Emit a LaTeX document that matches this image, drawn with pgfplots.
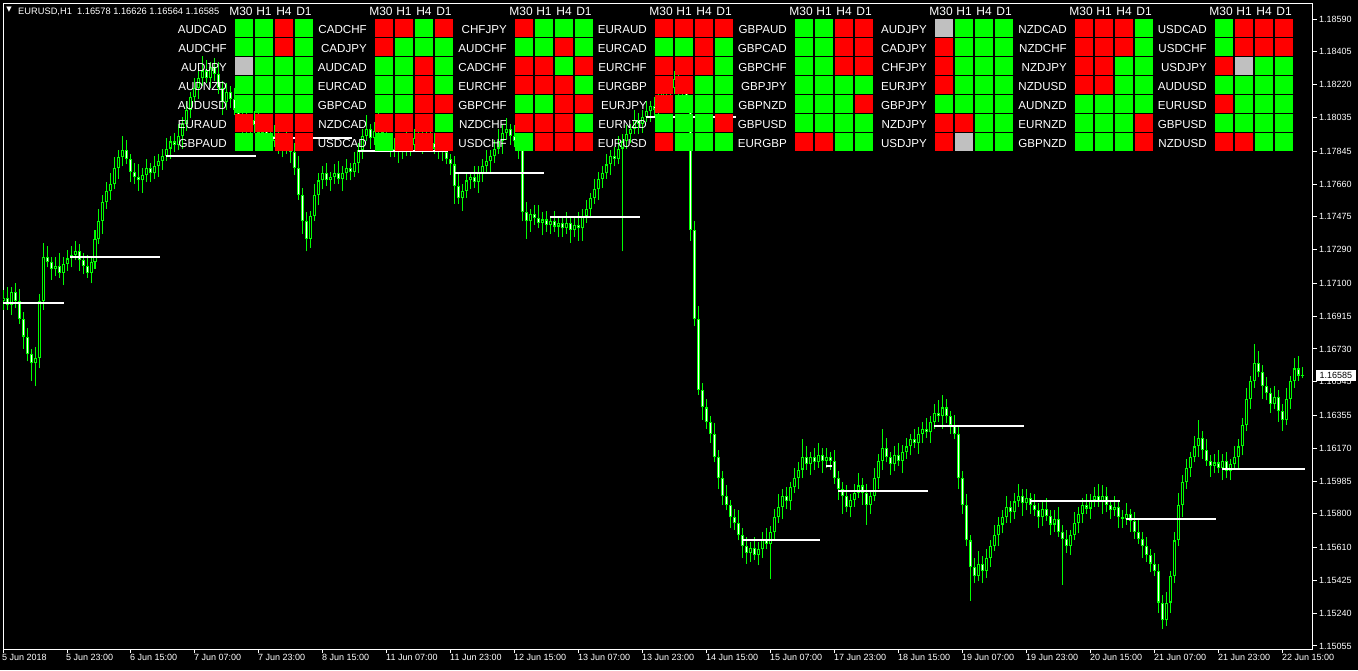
\documentclass[border=0pt]{standalone}
\usepackage{fontspec}
\setmainfont{Liberation Sans}
\newfontfamily\symfont{DejaVu Sans}
\usepackage{pgfplots}
\usepackage{pgfplotstable}
\pgfplotsset{compat=1.18}
\definecolor{mtgreen}{RGB}{0,255,0}
\definecolor{mtred}{RGB}{255,0,0}
\definecolor{mtgray}{RGB}{192,192,192}

% hourly EURUSD bars: index open high low close
\pgfplotstableread{
i o h l c
0 1.1700 1.1706 1.1695 1.1702
1 1.1702 1.1708 1.1695 1.1698
2 1.1698 1.1708 1.1692 1.1705
3 1.1705 1.1710 1.1696 1.1700
4 1.1700 1.1707 1.1687 1.1690
5 1.1690 1.1694 1.1673 1.1680
6 1.1680 1.1685 1.1666 1.1670
7 1.1670 1.1673 1.1655 1.1665
8 1.1665 1.1674 1.1652 1.1668
9 1.1668 1.1704 1.1662 1.1700
10 1.1700 1.1733 1.1695 1.1725
11 1.1725 1.1731 1.1719 1.1722
12 1.1722 1.1725 1.1712 1.1718
13 1.1718 1.1725 1.1714 1.1720
14 1.1720 1.1727 1.1713 1.1716
15 1.1716 1.1725 1.1709 1.1721
16 1.1721 1.1729 1.1717 1.1724
17 1.1724 1.1731 1.1719 1.1726
18 1.1726 1.1734 1.1723 1.1728
19 1.1728 1.1732 1.1717 1.1723
20 1.1723 1.1727 1.1715 1.1720
21 1.1720 1.1726 1.1713 1.1716
22 1.1716 1.1725 1.1710 1.1722
23 1.1722 1.1740 1.1718 1.1735
24 1.1735 1.1752 1.1732 1.1745
25 1.1745 1.1760 1.1738 1.1756
26 1.1756 1.1767 1.1752 1.1762
27 1.1762 1.1772 1.1757 1.1766
28 1.1766 1.1781 1.1763 1.1775
29 1.1775 1.1785 1.1769 1.1781
30 1.1781 1.1793 1.1776 1.1785
31 1.1785 1.1791 1.1777 1.1780
32 1.1780 1.1783 1.1767 1.1773
33 1.1773 1.1778 1.1766 1.1770
34 1.1770 1.1777 1.1762 1.1768
35 1.1768 1.1775 1.1761 1.1771
36 1.1771 1.1780 1.1767 1.1775
37 1.1775 1.1778 1.1767 1.1772
38 1.1772 1.1782 1.1769 1.1776
39 1.1776 1.1783 1.1770 1.1779
40 1.1779 1.1786 1.1774 1.1782
41 1.1782 1.1792 1.1779 1.1786
42 1.1786 1.1793 1.1780 1.1790
43 1.1790 1.1795 1.1784 1.1788
44 1.1788 1.1800 1.1785 1.1793
45 1.1793 1.1804 1.1786 1.1800
46 1.1800 1.1813 1.1796 1.1808
47 1.1808 1.1818 1.1803 1.1815
48 1.1815 1.1826 1.1812 1.1820
49 1.1820 1.1830 1.1814 1.1826
50 1.1826 1.1838 1.1821 1.1830
51 1.1830 1.1836 1.1823 1.1826
52 1.1826 1.1835 1.1820 1.1832
53 1.1832 1.1837 1.1824 1.1828
54 1.1828 1.1835 1.1817 1.1820
55 1.1820 1.1824 1.1805 1.1812
56 1.1812 1.1823 1.1808 1.1818
57 1.1818 1.1821 1.1809 1.1814
58 1.1814 1.1820 1.1805 1.1808
59 1.1808 1.1812 1.1798 1.1804
60 1.1804 1.1808 1.1795 1.1800
61 1.1800 1.1806 1.1794 1.1797
62 1.1797 1.1805 1.1791 1.1802
63 1.1802 1.1807 1.1795 1.1799
64 1.1799 1.1806 1.1792 1.1795
65 1.1795 1.1802 1.1788 1.1798
66 1.1798 1.1803 1.1790 1.1794
67 1.1794 1.1797 1.1785 1.1790
68 1.1790 1.1799 1.1787 1.1793
69 1.1793 1.1797 1.1783 1.1789
70 1.1789 1.1793 1.1781 1.1786
71 1.1786 1.1796 1.1783 1.1790
72 1.1790 1.1793 1.1778 1.1784
73 1.1784 1.1789 1.1771 1.1775
74 1.1775 1.1782 1.1757 1.1760
75 1.1760 1.1764 1.1738 1.1745
76 1.1745 1.1750 1.1728 1.1735
77 1.1735 1.1751 1.1730 1.1748
78 1.1748 1.1766 1.1745 1.1760
79 1.1760 1.1772 1.1754 1.1768
80 1.1768 1.1776 1.1763 1.1772
81 1.1772 1.1778 1.1765 1.1768
82 1.1768 1.1773 1.1762 1.1770
83 1.1770 1.1777 1.1766 1.1772
84 1.1772 1.1779 1.1766 1.1769
85 1.1769 1.1776 1.1762 1.1772
86 1.1772 1.1780 1.1768 1.1775
87 1.1775 1.1778 1.1768 1.1773
88 1.1773 1.1784 1.1770 1.1778
89 1.1778 1.1789 1.1772 1.1785
90 1.1785 1.1797 1.1780 1.1793
91 1.1793 1.1805 1.1790 1.1797
92 1.1797 1.1800 1.1786 1.1792
93 1.1792 1.1801 1.1788 1.1796
94 1.1796 1.1807 1.1793 1.1800
95 1.1800 1.1804 1.1788 1.1795
96 1.1795 1.1800 1.1786 1.1790
97 1.1790 1.1793 1.1781 1.1786
98 1.1786 1.1792 1.1781 1.1784
99 1.1784 1.1792 1.1778 1.1788
100 1.1788 1.1792 1.1780 1.1785
101 1.1785 1.1796 1.1782 1.1790
102 1.1790 1.1793 1.1782 1.1788
103 1.1788 1.1797 1.1784 1.1792
104 1.1792 1.1802 1.1789 1.1795
105 1.1795 1.1799 1.1783 1.1790
106 1.1790 1.1798 1.1786 1.1793
107 1.1793 1.1796 1.1784 1.1789
108 1.1789 1.1795 1.1783 1.1786
109 1.1786 1.1792 1.1780 1.1788
110 1.1788 1.1792 1.1779 1.1784
111 1.1784 1.1790 1.1777 1.1780
112 1.1780 1.1783 1.1771 1.1777
113 1.1777 1.1782 1.1755 1.1765
114 1.1765 1.1772 1.1755 1.1758
115 1.1758 1.1766 1.1751 1.1762
116 1.1762 1.1773 1.1758 1.1768
117 1.1768 1.1773 1.1763 1.1770
118 1.1770 1.1776 1.1764 1.1767
119 1.1767 1.1776 1.1761 1.1772
120 1.1772 1.1780 1.1767 1.1776
121 1.1776 1.1785 1.1773 1.1779
122 1.1779 1.1785 1.1773 1.1782
123 1.1782 1.1791 1.1778 1.1786
124 1.1786 1.1797 1.1783 1.1790
125 1.1790 1.1799 1.1783 1.1795
126 1.1795 1.1803 1.1791 1.1797
127 1.1797 1.1800 1.1788 1.1793
128 1.1793 1.1799 1.1787 1.1790
129 1.1790 1.1794 1.1780 1.1786
130 1.1786 1.1790 1.1745 1.1750
131 1.1750 1.1756 1.1735 1.1745
132 1.1745 1.1752 1.1739 1.1749
133 1.1749 1.1754 1.1743 1.1747
134 1.1747 1.1754 1.1741 1.1744
135 1.1744 1.1750 1.1737 1.1746
136 1.1746 1.1751 1.1739 1.1743
137 1.1743 1.1748 1.1738 1.1745
138 1.1745 1.1751 1.1739 1.1742
139 1.1742 1.1748 1.1736 1.1744
140 1.1744 1.1748 1.1736 1.1741
141 1.1741 1.1750 1.1738 1.1744
142 1.1744 1.1747 1.1733 1.1740
143 1.1740 1.1748 1.1736 1.1743
144 1.1743 1.1750 1.1734 1.1741
145 1.1741 1.1752 1.1734 1.1748
146 1.1748 1.1757 1.1744 1.1752
147 1.1752 1.1761 1.1747 1.1758
148 1.1758 1.1769 1.1755 1.1763
149 1.1763 1.1773 1.1757 1.1769
150 1.1769 1.1776 1.1764 1.1772
151 1.1772 1.1783 1.1769 1.1777
152 1.1777 1.1785 1.1771 1.1782
153 1.1782 1.1787 1.1776 1.1780
154 1.1780 1.1793 1.1777 1.1786
155 1.1786 1.1794 1.1728 1.1790
156 1.1790 1.1799 1.1786 1.1794
157 1.1794 1.1800 1.1789 1.1797
158 1.1797 1.1808 1.1794 1.1802
159 1.1802 1.1806 1.1794 1.1800
160 1.1800 1.1808 1.1795 1.1804
161 1.1804 1.1813 1.1801 1.1807
162 1.1807 1.1813 1.1801 1.1810
163 1.1810 1.1815 1.1804 1.1808
164 1.1808 1.1820 1.1805 1.1813
165 1.1813 1.1822 1.1806 1.1818
166 1.1818 1.1827 1.1814 1.1822
167 1.1822 1.1825 1.1815 1.1820
168 1.1820 1.1830 1.1817 1.1825
169 1.1825 1.1829 1.1816 1.1822
170 1.1822 1.1826 1.1813 1.1818
171 1.1818 1.1824 1.1809 1.1812
172 1.1812 1.1815 1.1734 1.1740
173 1.1740 1.1745 1.1686 1.1690
174 1.1690 1.1697 1.1647 1.1650
175 1.1650 1.1654 1.1633 1.1640
176 1.1640 1.1645 1.1628 1.1632
177 1.1632 1.1635 1.1620 1.1625
178 1.1625 1.1631 1.1609 1.1612
179 1.1612 1.1616 1.1594 1.1600
180 1.1600 1.1604 1.1585 1.1590
181 1.1590 1.1596 1.1582 1.1585
182 1.1585 1.1588 1.1572 1.1578
183 1.1578 1.1583 1.1571 1.1575
184 1.1575 1.1582 1.1565 1.1568
185 1.1568 1.1572 1.1555 1.1562
186 1.1562 1.1567 1.1552 1.1558
187 1.1558 1.1564 1.1553 1.1561
188 1.1561 1.1567 1.1554 1.1557
189 1.1557 1.1564 1.1551 1.1560
190 1.1560 1.1570 1.1555 1.1566
191 1.1566 1.1572 1.1560 1.1563
192 1.1563 1.1573 1.1543 1.1570
193 1.1570 1.1583 1.1566 1.1578
194 1.1578 1.1591 1.1575 1.1584
195 1.1584 1.1594 1.1577 1.1590
196 1.1590 1.1595 1.1583 1.1587
197 1.1587 1.1598 1.1582 1.1595
198 1.1595 1.1606 1.1592 1.1600
199 1.1600 1.1609 1.1594 1.1605
200 1.1605 1.1622 1.1600 1.1612
201 1.1612 1.1618 1.1605 1.1608
202 1.1608 1.1615 1.1602 1.1612
203 1.1612 1.1617 1.1605 1.1609
204 1.1609 1.1620 1.1606 1.1613
205 1.1613 1.1617 1.1603 1.1610
206 1.1610 1.1617 1.1606 1.1612
207 1.1612 1.1615 1.1605 1.1610
208 1.1610 1.1616 1.1597 1.1600
209 1.1600 1.1604 1.1588 1.1594
210 1.1594 1.1598 1.1580 1.1590
211 1.1590 1.1596 1.1581 1.1584
212 1.1584 1.1591 1.1578 1.1588
213 1.1588 1.1597 1.1584 1.1592
214 1.1592 1.1603 1.1589 1.1596
215 1.1596 1.1600 1.1585 1.1592
216 1.1592 1.1597 1.1574 1.1585
217 1.1585 1.1593 1.1580 1.1590
218 1.1590 1.1606 1.1587 1.1600
219 1.1600 1.1614 1.1594 1.1610
220 1.1610 1.1628 1.1605 1.1617
221 1.1617 1.1623 1.1609 1.1612
222 1.1612 1.1615 1.1602 1.1608
223 1.1608 1.1618 1.1604 1.1613
224 1.1613 1.1620 1.1607 1.1610
225 1.1610 1.1619 1.1603 1.1615
226 1.1615 1.1623 1.1611 1.1618
227 1.1618 1.1625 1.1613 1.1622
228 1.1622 1.1628 1.1617 1.1620
229 1.1620 1.1629 1.1614 1.1625
230 1.1625 1.1632 1.1620 1.1628
231 1.1628 1.1634 1.1623 1.1626
232 1.1626 1.1635 1.1620 1.1632
233 1.1632 1.1642 1.1628 1.1637
234 1.1637 1.1644 1.1632 1.1635
235 1.1635 1.1647 1.1628 1.1640
236 1.1640 1.1645 1.1631 1.1635
237 1.1635 1.1638 1.1625 1.1630
238 1.1630 1.1636 1.1622 1.1625
239 1.1625 1.1629 1.1594 1.1600
240 1.1600 1.1604 1.1580 1.1585
241 1.1585 1.1591 1.1562 1.1565
242 1.1565 1.1568 1.1531 1.1550
243 1.1550 1.1555 1.1541 1.1545
244 1.1545 1.1559 1.1542 1.1552
245 1.1552 1.1556 1.1541 1.1548
246 1.1548 1.1560 1.1544 1.1555
247 1.1555 1.1565 1.1550 1.1562
248 1.1562 1.1574 1.1559 1.1568
249 1.1568 1.1578 1.1562 1.1574
250 1.1574 1.1582 1.1569 1.1578
251 1.1578 1.1590 1.1575 1.1584
252 1.1584 1.1587 1.1575 1.1581
253 1.1581 1.1592 1.1577 1.1587
254 1.1587 1.1597 1.1584 1.1590
255 1.1590 1.1594 1.1579 1.1586
256 1.1586 1.1594 1.1582 1.1589
257 1.1589 1.1592 1.1580 1.1585
258 1.1585 1.1591 1.1579 1.1582
259 1.1582 1.1586 1.1572 1.1578
260 1.1578 1.1587 1.1573 1.1583
261 1.1583 1.1589 1.1576 1.1579
262 1.1579 1.1582 1.1568 1.1574
263 1.1574 1.1582 1.1570 1.1577
264 1.1577 1.1584 1.1567 1.1570
265 1.1570 1.1574 1.1540 1.1566
266 1.1566 1.1571 1.1558 1.1562
267 1.1562 1.1571 1.1557 1.1568
268 1.1568 1.1581 1.1565 1.1575
269 1.1575 1.1584 1.1569 1.1580
270 1.1580 1.1589 1.1575 1.1585
271 1.1585 1.1591 1.1580 1.1583
272 1.1583 1.1591 1.1577 1.1588
273 1.1588 1.1595 1.1584 1.1590
274 1.1590 1.1597 1.1584 1.1587
275 1.1587 1.1596 1.1580 1.1590
276 1.1590 1.1595 1.1581 1.1585
277 1.1585 1.1588 1.1577 1.1582
278 1.1582 1.1590 1.1579 1.1584
279 1.1584 1.1588 1.1572 1.1578
280 1.1578 1.1582 1.1572 1.1577
281 1.1577 1.1586 1.1574 1.1580
282 1.1580 1.1583 1.1570 1.1576
283 1.1576 1.1581 1.1566 1.1570
284 1.1570 1.1577 1.1563 1.1566
285 1.1566 1.1570 1.1555 1.1562
286 1.1562 1.1567 1.1553 1.1557
287 1.1557 1.1560 1.1547 1.1552
288 1.1552 1.1558 1.1545 1.1548
289 1.1548 1.1552 1.1524 1.1530
290 1.1530 1.1534 1.1515 1.1520
291 1.1520 1.1536 1.1517 1.1530
292 1.1530 1.1548 1.1524 1.1545
293 1.1545 1.1570 1.1541 1.1565
294 1.1565 1.1592 1.1562 1.1585
295 1.1585 1.1602 1.1578 1.1598
296 1.1598 1.1611 1.1594 1.1606
297 1.1606 1.1615 1.1601 1.1612
298 1.1612 1.1624 1.1609 1.1618
299 1.1618 1.1633 1.1612 1.1623
300 1.1623 1.1627 1.1611 1.1616
301 1.1616 1.1622 1.1607 1.1610
302 1.1610 1.1613 1.1601 1.1607
303 1.1607 1.1614 1.1603 1.1609
304 1.1609 1.1616 1.1603 1.1606
305 1.1606 1.1614 1.1599 1.1610
306 1.1610 1.1615 1.1600 1.1604
307 1.1604 1.1611 1.1599 1.1608
308 1.1608 1.1618 1.1605 1.1612
309 1.1612 1.1622 1.1606 1.1618
310 1.1618 1.1634 1.1613 1.1630
311 1.1630 1.1651 1.1627 1.1645
312 1.1645 1.1658 1.1639 1.1655
313 1.1655 1.1676 1.1651 1.1665
314 1.1665 1.1672 1.1657 1.1660
315 1.1660 1.1664 1.1645 1.1652
316 1.1652 1.1657 1.1644 1.1648
317 1.1648 1.1651 1.1637 1.1642
318 1.1642 1.1652 1.1639 1.1646
319 1.1646 1.1650 1.1632 1.1638
320 1.1638 1.1642 1.1627 1.1633
321 1.1633 1.1651 1.1630 1.1645
322 1.1645 1.1658 1.1639 1.1655
323 1.1655 1.1668 1.1651 1.1662
324 1.1662 1.1669 1.1655 1.1658
325 1.16578 1.16626 1.16564 1.16585
}\bars

% daily open levels: first bar, length in bars, price
\pgfplotstableread{
xs len p
-0.25 15.5 1.16989
16.75 22.5 1.17248
40.75 22.5 1.17818
64.75 22.5 1.17919
88.75 22.5 1.17846
112.75 22.5 1.17722
136.75 22.5 1.17474
160.75 22.5 1.18037
184.75 19.5 1.15653
205.75 1.5 1.16070
208.75 22.5 1.15929
232.75 22.5 1.16295
256.75 22.5 1.15872
280.75 22.5 1.15771
304.75 20.75 1.16053
}\opens

% dashboard: group column, row, pair, state for M30 H1 H4 D1 (g up, r down, s neutral)
\pgfplotstableread{
c r name m30 h1 h4 d1
0 0 AUDCAD g g r g
0 1 AUDCHF g g r g
0 2 AUDJPY s g g g
0 3 AUDNZD g g g g
0 4 AUDUSD g g g g
0 5 EURAUD r r r r
0 6 GBPAUD g g r r
1 0 CADCHF r r g r
1 1 CADJPY r g g g
1 2 AUDCAD g g r g
1 3 EURCAD g g r g
1 4 GBPCAD g g r r
1 5 NZDCAD r r r g
1 6 USDCAD g r r r
2 0 CHFJPY r g g g
2 1 AUDCHF g g r g
2 2 CADCHF r r g r
2 3 EURCHF r r r g
2 4 GBPCHF g g r r
2 5 NZDCHF r r r g
2 6 USDCHF g r r r
3 0 EURAUD r r r r
3 1 EURCAD g g r g
3 2 EURCHF r r r g
3 3 EURGBP r r g g
3 4 EURJPY r g g g
3 5 EURNZD g g g r
3 6 EURUSD r g g g
4 0 GBPAUD g g r r
4 1 GBPCAD g g r r
4 2 GBPCHF g g r r
4 3 GBPJPY g g g g
4 4 GBPNZD g g g r
4 5 GBPUSD g g g g
4 6 EURGBP r r g g
5 0 AUDJPY s g g g
5 1 CADJPY r g g g
5 2 CHFJPY r g g g
5 3 EURJPY r g g g
5 4 GBPJPY g g g g
5 5 NZDJPY r r g g
5 6 USDJPY r s g g
6 0 NZDCAD r r r g
6 1 NZDCHF r r r g
6 2 NZDJPY r r g g
6 3 NZDUSD r r g g
6 4 AUDNZD g g g g
6 5 EURNZD g g g r
6 6 GBPNZD g g g r
7 0 USDCAD g r r r
7 1 USDCHF g r r r
7 2 USDJPY r s g g
7 3 AUDUSD g g g g
7 4 EURUSD r g g g
7 5 GBPUSD g g g g
7 6 NZDUSD r r g g
}\dash

\pgfplotsset{
  sq/.style={scatter, only marks, mark size=8.5pt, point meta=explicit symbolic,
    scatter/classes={r={mark=square*, mtred}, g={mark=square*, mtgreen}, s={mark=square*, mtgray}}},
  seg/.style={mark=none, forget plot},
}
\tikzset{hdr/.style={text=white, inner sep=0pt, font=\fontsize{12}{13}\selectfont}}

\begin{document}
\begin{tikzpicture}
\fill[black] (-3pt,-21pt) rectangle (1355pt,649pt);

\begin{axis}[
  scale only axis, width=1310pt, height=645pt,
  xmin=0, xmax=327.5, ymin=1.15038, ymax=1.18675,
  axis line style={white, line width=1pt},
  tick align=outside, major tick length=4pt,
  tick style={white, line width=1pt},
  xtick pos=left, ytick pos=right, yticklabel pos=right,
  xtick={0,16,...,320},
  xticklabels={5 Jun 2018, 5 Jun 23:00, 6 Jun 15:00, 7 Jun 07:00, 7 Jun 23:00,
    8 Jun 15:00, 11 Jun 07:00, 11 Jun 23:00, 12 Jun 15:00, 13 Jun 07:00,
    13 Jun 23:00, 14 Jun 15:00, 15 Jun 07:00, 17 Jun 23:00, 18 Jun 15:00,
    19 Jun 07:00, 19 Jun 23:00, 20 Jun 15:00, 21 Jun 07:00, 21 Jun 23:00,
    22 Jun 15:00},
  ytick={1.15055,1.15240,1.15425,1.15610,1.15800,1.15985,1.16170,1.16355,1.16545,1.16730,
    1.16915,1.17100,1.17290,1.17475,1.17660,1.17845,1.18035,1.18220,1.18405,1.18590},
  yticklabels={1.15055,1.15240,1.15425,1.15610,1.15800,1.15985,1.16170,1.16355,1.16545,1.16730,
    1.16915,1.17100,1.17290,1.17475,1.17660,1.17845,1.18035,1.18220,1.18405,1.18590},
  scaled y ticks=false,
  every tick label/.append style={text=white, font=\fontsize{9}{10}\selectfont},
  xticklabel style={anchor=north west, inner sep=0pt, xshift=-1pt, yshift=-1pt},
  yticklabel style={anchor=west, inner sep=0pt, xshift=2pt},
]
% wicks: low to high
\addplot[seg, mtgreen, line width=1pt, quiver={u=0, v=\thisrow{h}-\thisrow{l}}]
  table[x=i, y=l] {\bars};
% bodies: green outline colour
\addplot[seg, mtgreen, line width=3pt, quiver={u=0, v=abs(\thisrow{c}-\thisrow{o})}]
  table[x=i, y expr={min(\thisrow{o},\thisrow{c})}] {\bars};
% bull bodies black inside (others are sent out of the y domain and dropped)
\addplot[seg, black, line width=1pt, restrict y to domain=1.1:1.2,
  quiver={u=0, v=\thisrow{c}-\thisrow{o}-0.00012}]
  table[x=i, y expr={(\thisrow{c}-\thisrow{o}>0.00012) ? \thisrow{o}+0.00006 : 1.0}] {\bars};
% bear bodies white inside
\addplot[seg, white, line width=1pt, restrict y to domain=1.1:1.2,
  quiver={u=0, v=\thisrow{o}-\thisrow{c}-0.00012}]
  table[x=i, y expr={(\thisrow{o}-\thisrow{c}>0.00012) ? \thisrow{c}+0.00006 : 1.0}] {\bars};
% daily open levels
\addplot[seg, white, line width=2pt, quiver={u=\thisrow{len}, v=0}]
  table[x=xs, y=p] {\opens};
\end{axis}

% dashboard overlay, in the chart's pixel grid
\begin{axis}[
  scale only axis, width=1310pt, height=645pt,
  xmin=3, xmax=1313, ymin=4, ymax=649, y dir=reverse,
  hide axis, clip=false,
]
\addplot[sq] table[x expr=244+140*\thisrow{c}, y expr=27.5+19*\thisrow{r}, meta=m30] {\dash};
\addplot[sq] table[x expr=264+140*\thisrow{c}, y expr=27.5+19*\thisrow{r}, meta=h1] {\dash};
\addplot[sq] table[x expr=284+140*\thisrow{c}, y expr=27.5+19*\thisrow{r}, meta=h4] {\dash};
\addplot[sq] table[x expr=304+140*\thisrow{c}, y expr=27.5+19*\thisrow{r}, meta=d1] {\dash};
\addplot[only marks, mark=none, nodes near coords, point meta=explicit symbolic,
  every node near coord/.append style={anchor=east, inner sep=0pt, text=white,
    font=\fontsize{11.6}{12}\selectfont}]
  table[x expr=227+140*\thisrow{c}, y expr=29.5+19*\thisrow{r}, meta=name] {\dash};
\pgfplotsinvokeforeach{241,381,521,661,801,941,1081,1221}{
  \node[hdr] at (axis cs:#1,11) {M30};
  \node[hdr, xshift=23pt] at (axis cs:#1,11) {H1};
  \node[hdr, xshift=43pt] at (axis cs:#1,11) {H4};
  \node[hdr, xshift=63pt] at (axis cs:#1,11) {D1};
}
\node[text=white, inner sep=0pt, font=\symfont\fontsize{7}{8}\selectfont] at (axis cs:9,10) {▼};
\node[anchor=base west, text=white, inner sep=0pt, font=\fontsize{9.3}{10}\selectfont]
  at (axis cs:18,14) {EURUSD,H1\ \ 1.16578 1.16626 1.16564 1.16585};
\node[anchor=west, fill=white, text=black, inner xsep=3.5pt, inner ysep=0pt,
  minimum height=10.5pt, font=\fontsize{9}{10}\selectfont] at (axis cs:1316,375.5) {1.16585};
\end{axis}

\pgfresetboundingbox
\path (-3pt,-21pt) rectangle (1355pt,649pt);
\end{tikzpicture}
\end{document}
